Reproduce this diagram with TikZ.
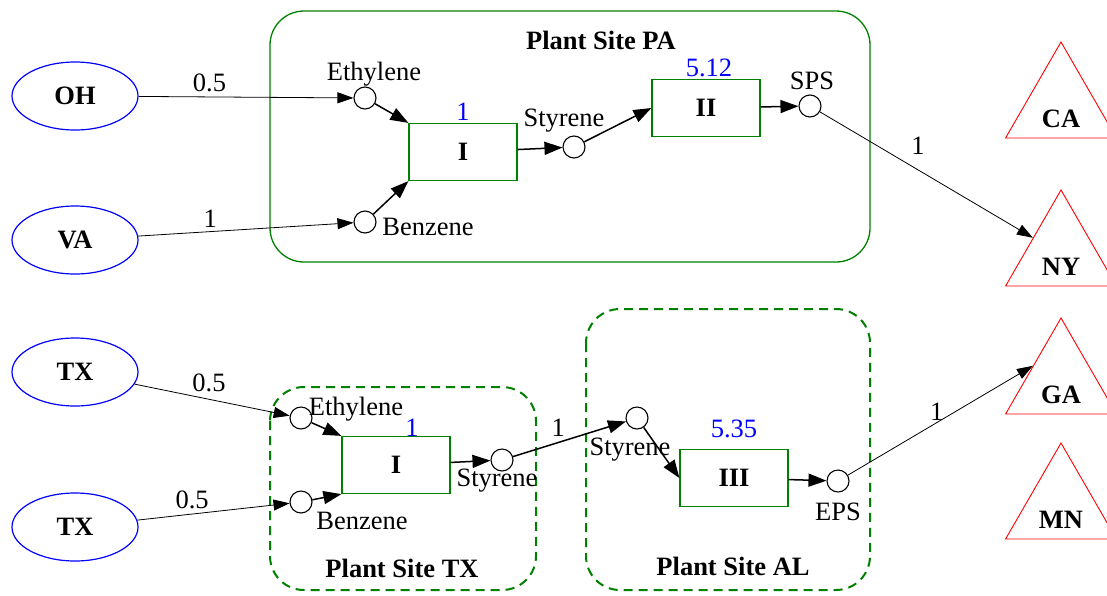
\documentclass[tikz,border=0pt]{standalone}
\usepackage{fontspec}
\setmainfont{Liberation Serif}
\usepackage{tikz}
\usetikzlibrary{shapes,arrows.meta,positioning}
\definecolor{plantgreen}{RGB}{0,128,0}
\tikzstyle{supply} = [draw=blue, ellipse, line width=1.2pt,
    minimum width=126pt, minimum height=68pt, font=\bfseries]
\tikzstyle{market} = [draw=red, regular polygon, regular polygon sides=3,
    minimum size=128pt, inner sep=0pt, line width=0.9pt]
\tikzstyle{unit} = [draw=plantgreen, rectangle, line width=1.2pt,
    minimum width=108pt, minimum height=57pt, font=\bfseries]
\tikzstyle{stream} = [draw, circle, line width=1.1pt, minimum size=22pt, inner sep=0pt]
\tikzstyle{tag} = [inner sep=0pt]
\tikzstyle{rate} = [inner sep=0pt, text=blue]
\tikzstyle{amount} = [inner sep=0pt]
\tikzstyle{site} = [draw=plantgreen, rounded corners=34pt, line width=1.3pt]
\tikzstyle{plannedsite} = [site, line width=2pt, dash pattern=on 9pt off 6pt]
\tikzstyle{sitetitle} = [font=\bfseries, inner sep=0pt]
\tikzstyle{connector} = [-{Triangle[length=18pt,width=13pt]}, line width=1.5pt]
\tikzstyle{shipment} = [-{Triangle[length=16pt,width=11pt]}, line width=0.8pt]

\begin{document}
\fontsize{26.5}{30}\selectfont
\begin{tikzpicture}[x=1pt, y=-1pt]
    \useasboundingbox (0,0) rectangle (1107,595);

    % sites
    \draw [site] (270,11) rectangle (870,262);
    \draw [plannedsite] (270,387) rectangle (536,590);
    \draw [plannedsite] (586,309) rectangle (870,590);
    \node (titlePA) [sitetitle] at (601,40) {Plant Site PA};
    \node (titleTX) [sitetitle] at (402,568) {Plant Site TX};
    \node (titleAL) [sitetitle] at (733,566) {Plant Site AL};

    % suppliers
    \node (oh) [supply] at (75,96) {OH};
    \node (va) [supply, below of=oh, node distance=144pt] {VA};
    \node (txa) [supply, below of=va, node distance=132pt] {TX};
    \node (txb) [supply, below of=txa, node distance=155pt] {TX};

    % markets
    \node (ca) [market, label={[sitetitle, yshift=-13pt]center:CA}] at (1061,106) {};
    \node (ny) [market, below of=ca, node distance=148pt,
        label={[sitetitle, yshift=-13pt]center:NY}] {};
    \node (ga) [market, below of=ny, node distance=128pt,
        label={[sitetitle, yshift=-13pt]center:GA}] {};
    \node (mn) [market, below of=ga, node distance=125pt,
        label={[sitetitle, yshift=-13pt]center:MN}] {};

    % plant site PA
    \node (unitIpa) [unit, label={[rate, yshift=40pt]center:1}] at (463,152) {I};
    \node (ethpa) [stream, left of=unitIpa, node distance=98pt, yshift=54pt,
        label={[tag, xshift=9pt, yshift=24pt]center:Ethylene}] {};
    \node (benpa) [stream, left of=unitIpa, node distance=98pt, yshift=-70pt,
        label={[tag, xshift=63pt, yshift=-5pt]center:Benzene}] {};
    \node (stypa) [stream, right of=unitIpa, node distance=111pt, yshift=5pt,
        label={[tag, xshift=-10pt, yshift=26pt]center:Styrene}] {};
    \node (unitIIpa) [unit, right of=stypa, node distance=132pt, yshift=39pt,
        label={[rate, xshift=3pt, yshift=40pt]center:5.12}] {II};
    \node (spspa) [stream, right of=unitIIpa, node distance=104pt, yshift=2pt,
        label={[tag, xshift=2pt, yshift=25pt]center:SPS}] {};

    % plant site TX
    \node (unitItx) [unit, label={[rate, xshift=16pt, yshift=37pt]center:1}] at (396,465) {I};
    \node (ethtx) [stream, left of=unitItx, node distance=95pt, yshift=47pt,
        label={[tag, xshift=55pt, yshift=9pt]center:Ethylene}] {};
    \node (bentx) [stream, left of=unitItx, node distance=95pt, yshift=-37pt,
        label={[tag, xshift=61pt, yshift=-19pt]center:Benzene}] {};
    \node (stytx) [stream, right of=unitItx, node distance=106pt, yshift=5pt,
        label={[tag, xshift=-5pt, yshift=-21pt]center:Styrene}] {};

    % plant site AL
    \node (styal) [stream, right of=stytx, node distance=135pt, yshift=42pt,
        label={[tag, xshift=-7pt, yshift=-32pt]center:Styrene}] {};
    \node (unitIIIal) [unit, right of=styal, node distance=97pt, yshift=-60pt,
        label={[rate, yshift=49pt]center:5.35}] {III};
    \node (epsal) [stream, right of=unitIIIal, node distance=104pt, yshift=-3pt,
        label={[tag, yshift=-31pt]center:EPS}] {};

    % process links
    \draw [connector] (ethpa) -- (unitIpa.north west);
    \draw [connector] (benpa) -- (unitIpa.south west);
    \draw [connector] (unitIpa) -- (stypa);
    \draw [connector] (stypa) -- (unitIIpa.west);
    \draw [connector] (unitIIpa) -- (spspa);
    \draw [connector] (ethtx) -- (unitItx.north west);
    \draw [connector] (bentx) -- (unitItx.south west);
    \draw [connector] (unitItx) -- (stytx);
    \draw [connector] (styal) -- (unitIIIal.west);
    \draw [connector] (unitIIIal) -- (epsal);

    % shipments
    \draw [shipment] (oh) -- node [amount, pos=0.33, yshift=14pt] {0.5} (ethpa);
    \draw [shipment] (va) -- node [amount, pos=0.335, yshift=13pt] {1} (benpa);
    \draw [shipment] (txa) -- node [amount, pos=0.48, yshift=16pt] {0.5} (ethtx);
    \draw [shipment] (txb) -- node [amount, pos=0.36, yshift=14pt] {0.5} (bentx);
    \draw [connector] (stytx) -- node [amount, pos=0.4, yshift=15pt] {1} (styal);
    \draw [shipment] (spspa) -- node [amount, pos=0.46, yshift=24pt] {1} (ny.side 1);
    \draw [shipment] (epsal) -- node [amount, pos=0.48, yshift=11pt] {1} (ga.side 1);
\end{tikzpicture}
\end{document}
